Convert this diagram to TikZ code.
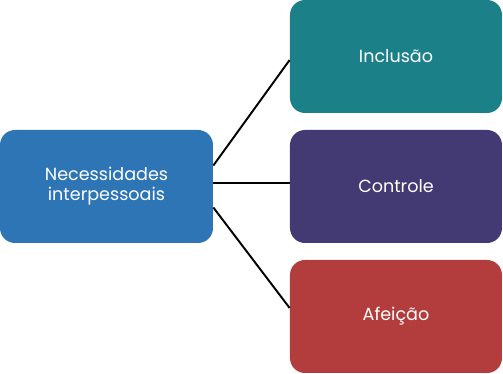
\documentclass[tikz,border=0pt]{standalone}
\usepackage{fontspec}
\setmainfont{Poppins}
\usetikzlibrary{calc}
\definecolor{needblue}{HTML}{2E75B6}
\definecolor{incteal}{HTML}{1B8087}
\definecolor{conpurple}{HTML}{433A73}
\definecolor{afered}{HTML}{B33D3D}

\begin{document}
\begin{tikzpicture}[
  every node/.style={rounded corners=0.3cm, align=center, text=white, font=\fontsize{10}{11.4}\selectfont, inner sep=4pt},
  rootbox/.style={fill=needblue, minimum width=4.26cm, minimum height=2.26cm},
  leafbox/.style={minimum width=4.24cm, minimum height=2.26cm},
  link/.style={draw=black, line width=1.1pt}
]
\useasboundingbox (0,0) rectangle (10.06,-7.48);
\node[rootbox] (need) at (2.13,-3.73) {Necessidades\\ interpessoais};

\node[leafbox, fill=incteal]   (incl) at (7.92,-1.13) {Inclusão};
\node[leafbox, fill=conpurple] (ctrl) at (7.92,-3.73) {Controle};
\node[leafbox, fill=afered]    (afei) at (7.92,-6.33) {Afeição};

\draw[link] ($(need.east)+(0,0.42)$) -- ($(incl.west)+(0,-0.07)$);
\draw[link] ($(need.east)+(0,0.07)$) -- ($(ctrl.west)+(0,0.07)$);
\draw[link] ($(need.east)+(0,-0.42)$) -- ($(afei.west)+(0,0.17)$);
\end{tikzpicture}
\end{document}
